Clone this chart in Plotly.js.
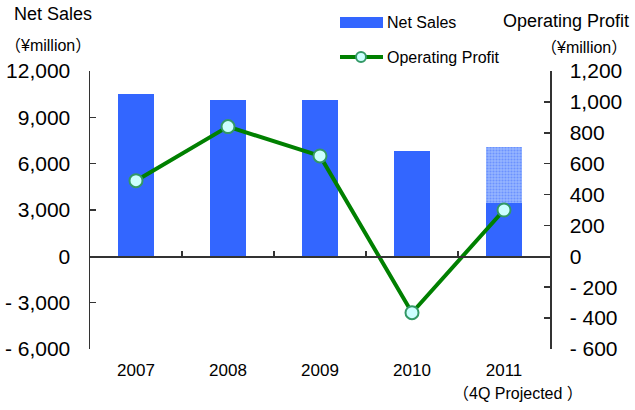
<!DOCTYPE html>
<html>
<head>
<meta charset="utf-8">
<script src="https://cdn.plot.ly/plotly-3.0.1.min.js"></script>
<style>html,body{margin:0;padding:0;background:#fff;}#chart{width:635px;height:410px;}</style>
</head>
<body>
<div id="chart"></div>
<script>
// ---- data ----
var years = ["2007", "2008", "2009", "2010", "2011"];
var netSales = [10500, 10150, 10100, 6850, 3450];          // actual (¥million)
var netSalesProjected = [null, null, null, null, 7050];    // full-year projection
var operatingProfit = [490, 840, 650, -365, 300];          // ¥million
var leftTicks = [-6000, -3000, 0, 3000, 6000, 9000, 12000];
var leftTickText = ["-\u00a06,000", "-\u00a03,000", "0", "3,000", "6,000", "9,000", "12,000"];
var rightTicks = [-600, -400, -200, 0, 200, 400, 600, 800, 1000, 1200];
var rightTickText = ["-\u00a0600", "-\u00a0400", "-\u00a0200", "0", "200", "400", "600", "800", "1,000", "1,200"];
var projectedNote = "（4Q Projected ）";

var FONT = "Liberation Sans, Arial, 'Noto Sans CJK JP', sans-serif";
var BLUE = "#3366FF";
var AXC = "#333333";

var projExtra = netSalesProjected.map(function (v, i) { return v == null ? null : v - netSales[i]; });

var traces = [
  {
    type: "bar", x: years, y: netSales, name: "Net Sales",
    marker: { color: BLUE, line: { width: 0 } }, width: 0.4,
    showlegend: false, hoverinfo: "x+y"
  },
  {
    type: "bar", x: years, y: projExtra, name: "Net Sales (projected)",
    marker: { color: "#84A8FF", line: { width: 0 },
      pattern: { shape: ".", fgcolor: "#6C92FF", bgcolor: "#96B6FF", size: 3, solidity: 0.4 } },
    width: 0.4, showlegend: false, hoverinfo: "x+y"
  },
  {
    type: "scatter", mode: "lines+markers", x: years, y: operatingProfit, yaxis: "y2",
    name: "Operating Profit",
    line: { color: "#008000", width: 4 },
    marker: { symbol: "circle", size: 13, color: "#CCFFFF", line: { color: "#339966", width: 2 } },
    cliponaxis: false, showlegend: false
  },
  {
    type: "scatter", mode: "markers", x: years, y: years.map(function () { return null; }),
    xaxis: "x2", yaxis: "y", showlegend: false, hoverinfo: "skip"
  }
];

function px2x(p) { return (p - 90) / 460; }
function px2y(p) { return (349 - p) / 278; }

var layout = {
  width: 635, height: 410,
  margin: { l: 90, r: 85, t: 71, b: 61 },
  paper_bgcolor: "#ffffff", plot_bgcolor: "#ffffff",
  font: { family: FONT, color: "#000000" },
  barmode: "stack",
  showlegend: false,
  xaxis: {
    type: "category", categoryorder: "array", categoryarray: years,
    range: [-0.5, 4.5], showline: false, showgrid: false, zeroline: false,
    ticks: "", ticklabelstandoff: 9,
    tickfont: { size: 17, family: FONT }
  },
  xaxis2: {
    type: "category", categoryorder: "array", categoryarray: years,
    range: [-0.5, 4.5], overlaying: "x", anchor: "free", position: 1 / 3,
    showline: true, linecolor: AXC, linewidth: 1.5,
    ticks: "inside", tickson: "boundaries", ticklen: 5, tickcolor: AXC, tickwidth: 1.5,
    showticklabels: false, showgrid: false, zeroline: false
  },
  yaxis: {
    range: [-6000, 12000], tickvals: leftTicks, ticktext: leftTickText,
    showline: true, linecolor: AXC, linewidth: 1.5,
    ticks: "inside", ticklen: 6, tickcolor: AXC, tickwidth: 1.5,
    showgrid: false, zeroline: false, ticklabelstandoff: 14,
    tickfont: { size: 21, family: FONT }
  },
  yaxis2: {
    range: [-600, 1200], tickvals: rightTicks, ticktext: rightTickText,
    overlaying: "y", side: "right", anchor: "x",
    showline: true, linecolor: AXC, linewidth: 1.5,
    ticks: "inside", ticklen: 6, tickcolor: AXC, tickwidth: 1.5,
    showgrid: false, zeroline: false, ticklabelstandoff: 14,
    tickfont: { size: 21, family: FONT }
  },
  shapes: [
    { type: "rect", xref: "paper", yref: "paper", x0: px2x(340), x1: px2x(383), y0: px2y(28), y1: px2y(17),
      fillcolor: BLUE, line: { width: 0 } },
    { type: "line", xref: "paper", yref: "paper", x0: px2x(340), x1: px2x(383), y0: px2y(57), y1: px2y(57),
      line: { color: "#008000", width: 4 } },
    { type: "circle", xref: "paper", yref: "paper", x0: px2x(356), x1: px2x(366), y0: px2y(62), y1: px2y(52),
      fillcolor: "#CCFFFF", line: { color: "#339966", width: 2 } }
  ],
  annotations: [
    { text: "Net Sales", xref: "paper", yref: "paper", x: px2x(12), y: px2y(14), xanchor: "left", yanchor: "middle",
      showarrow: false, font: { size: 18, family: FONT } },
    { text: "（¥million）", xref: "paper", yref: "paper", x: px2x(48), y: px2y(46), xanchor: "center", yanchor: "middle",
      showarrow: false, font: { size: 16, family: FONT } },
    { text: "Operating Profit", xref: "paper", yref: "paper", x: px2x(631), y: px2y(21), xanchor: "right", yanchor: "middle",
      showarrow: false, font: { size: 18, family: FONT } },
    { text: "（¥million）", xref: "paper", yref: "paper", x: px2x(584), y: px2y(47), xanchor: "center", yanchor: "middle",
      showarrow: false, font: { size: 16, family: FONT } },
    { text: "Net Sales", xref: "paper", yref: "paper", x: px2x(385), y: px2y(23), xanchor: "left", yanchor: "middle",
      showarrow: false, font: { size: 16, family: FONT } },
    { text: "Operating Profit", xref: "paper", yref: "paper", x: px2x(385), y: px2y(57), xanchor: "left", yanchor: "middle",
      showarrow: false, font: { size: 16, family: FONT } },
    { text: projectedNote, xref: "paper", yref: "paper", x: px2x(518), y: px2y(394), xanchor: "center", yanchor: "middle",
      showarrow: false, font: { size: 16, family: FONT } }
  ]
};

Plotly.newPlot("chart", traces, layout, { displayModeBar: false, staticPlot: true });
</script>
</body>
</html>
